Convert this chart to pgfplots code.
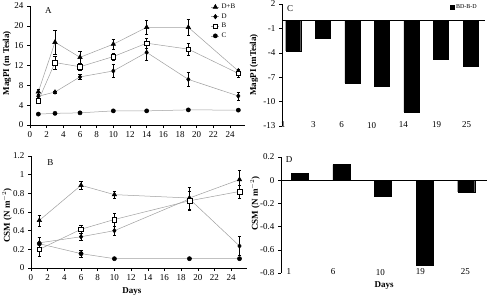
\documentclass[border=0pt]{standalone}
\usepackage{fontspec}
\setmainfont{Liberation Serif}
\usepackage{pgfplots}
\usepackage{pgfplotstable}
\pgfplotsset{compat=1.18}

% MagPI (mTesla), panel A: day, mean, standard error
\pgfplotstableread{
d v e
1 6.7 0.5
3 16.7 2.4
6 13.65 1.2
10 16.3 1.0
14 19.7 1.35
19 19.7 1.6
25 10.9 0.4
}\magDB
\pgfplotstableread{
d v e
1 5.8 0.4
3 6.65 0.2
6 9.7 0.5
10 10.9 1.35
14 14.65 1.5
19 9.2 1.4
25 5.85 0.8
}\magD
\pgfplotstableread{
d v e
1 4.9 0.3
3 12.6 1.3
6 11.75 0.7
10 13.8 0.7
14 16.5 1.0
19 15.3 1.2
25 10.4 0.8
}\magB
\pgfplotstableread{
d v e
1 2.2 0.1
3 2.35 0.1
6 2.45 0.1
10 2.85 0.1
14 2.85 0.1
19 3.05 0.1
25 3.0 0.1
}\magC

% CSM (N m^-2), panel B
\pgfplotstableread{
d v e
1 0.51 0.06
6 0.886 0.045
10 0.786 0.04
19 0.75 0.12
25 0.947 0.1
}\csmDB
\pgfplotstableread{
d v e
1 0.27 0.06
6 0.335 0.04
10 0.40 0.05
19 0.74 0.12
25 0.236 0.1
}\csmD
\pgfplotstableread{
d v e
1 0.20 0.075
6 0.415 0.04
10 0.52 0.07
19 0.72 0.1
25 0.82 0.07
}\csmB
\pgfplotstableread{
d v e
1 0.26 0.07
6 0.154 0.04
10 0.10 0.01
19 0.10 0.01
25 0.10 0.01
}\csmC

\pgfplotsset{
  panel/.style={
    scale only axis, anchor=south west, clip=false,
    axis lines=left, axis line style={black, line width=0.6pt, -},
    tick align=outside, major tick length=3pt,
    tick style={black, line width=0.5pt},
    ticklabel style={font=\fontsize{9}{10}\selectfont},
    /pgf/number format/assume math mode=true,
    label style={font=\bfseries\fontsize{9}{10}\selectfont},
  },
  % rotated y label, centred at a fixed distance left of the axis line
  ylab/.style 2 args={every axis y label/.style={at={(rel axis cs:0,#1)}, rotate=90,
      anchor=center, yshift=#2, font=\bfseries\fontsize{9}{10}\selectfont}},
  series/.style={
    draw=gray!75, line width=0.5pt,
    error bars/y dir=both, error bars/y explicit,
    error bars/error bar style={black, line width=0.5pt},
    error bars/error mark options={rotate=90, black, mark size=1.6pt, line width=0.5pt},
  },
  lineleg/.style={
    legend image code/.code={
      \draw[##1, mark repeat=2, mark phase=2] plot coordinates {(0pt,0pt) (4pt,0pt) (8pt,0pt)};
    }
  },
  dbmark/.style={mark=triangle*, mark size=2.6pt, mark options={draw=black, fill=black, solid}},
  dmark/.style={mark=diamond*, mark size=2.3pt, mark options={draw=black, fill=black, solid}},
  bmark/.style={mark=square*, mark size=2.3pt, mark options={draw=black, fill=white, solid}},
  cmark/.style={mark=*, mark size=2.1pt, mark options={draw=black, fill=black, solid}},
}

\begin{document}
\begin{tikzpicture}
\useasboundingbox (0pt,0pt) rectangle (489pt,301pt);

% A: MagPI time course
\begin{axis}[panel, at={(30pt,176pt)}, width=215pt, height=119pt,
  xmin=0, xmax=25.8, ymin=0, ymax=24,
  xtick={0,2,...,24}, ytick={0,4,...,24},
  ylab={0.52}{23pt},
  ylabel={MagPI (m Tesla)},
  legend style={at={(0.965,1.035)}, anchor=north east, draw=none, fill=none,
    font=\fontsize{7}{8}\selectfont, row sep=-0.5pt, inner sep=0pt, cells={anchor=west}},
  lineleg]
\addplot[series, dbmark] table[x=d, y=v, y error=e] {\magDB};
\addlegendentry{D+B}
\addplot[series, dmark] table[x=d, y=v, y error=e] {\magD};
\addlegendentry{D}
\addplot[series, bmark] table[x=d, y=v, y error=e] {\magB};
\addlegendentry{B}
\addplot[series, cmark] table[x=d, y=v, y error=e] {\magC};
\addlegendentry{C}
\node[font=\fontsize{9}{10}\selectfont, anchor=center] at (rel axis cs:0.085,0.965) {A};
\end{axis}

% B: CSM time course
\begin{axis}[panel, at={(31pt,33pt)}, width=216pt, height=112pt,
  xmin=0, xmax=25.9, ymin=0, ymax=1.2,
  xtick={0,2,...,24}, ytick={0,0.2,...,1.2},
  yticklabel style={/pgf/number format/fixed},
  ylab={0.47}{24pt},
  xlabel style={xshift=-7pt},
  xlabel={Days}, ylabel={CSM (N m$^{-2}$)}]
\addplot[series, dbmark] table[x=d, y=v, y error=e] {\csmDB};
\addplot[series, dmark] table[x=d, y=v, y error=e] {\csmD};
\addplot[series, bmark] table[x=d, y=v, y error=e] {\csmB};
\addplot[series, cmark] table[x=d, y=v, y error=e] {\csmC};
\node[font=\fontsize{9}{10}\selectfont, anchor=center] at (rel axis cs:0.09,0.94) {B};
\end{axis}

% C: BD-B-D difference of MagPI
\begin{axis}[panel, at={(282pt,175pt)}, width=203pt, height=122pt,
  axis x line=bottom, x axis line style={draw=none}, xtick style={draw=none},
  xmin=-0.38, xmax=6.49, ymin=-13, ymax=2,
  ytick={2,-1,-4,-7,-10,-13},
  xtick={-0.34,0.68,1.64,2.65,3.73,4.85,5.87},
  xticklabels={1,3,6,10,14,19,25},
  xticklabel style={yshift=9pt},
  extra y ticks={0},
  extra y tick style={yticklabel={}, tick style={draw=none}, grid=major,
    major grid style={black, line width=0.6pt}},
  ylab={0.5}{28pt},
  ylabel={MagPI (mTesla)},
  legend style={at={(0.97,1.01)}, anchor=north east, draw=none, fill=none,
    font=\fontsize{6}{7}\selectfont, inner sep=0pt},
  legend image code/.code={\fill[black] (0pt,-2pt) rectangle (4pt,2pt);}]
\addplot[ybar, bar width=15pt, fill=black, draw=black]
  coordinates {(0,-3.75) (1,-2.23) (2,-7.7) (3,-8.07) (4,-11.27) (5,-4.74) (6,-5.6)};
\addlegendentry{BD-B-D}
\node[font=\fontsize{9}{10}\selectfont, anchor=center] at (rel axis cs:0.04,0.965) {C};
\end{axis}

% D: BD-B-D difference of CSM
\begin{axis}[panel, at={(281pt,28pt)}, width=206pt, height=116pt,
  axis x line=bottom, x axis line style={draw=none}, xtick style={draw=none},
  xmin=-0.45, xmax=4.5, ymin=-0.8, ymax=0.2,
  ytick={0.2,0,-0.2,-0.4,-0.6,-0.8},
  yticklabel style={/pgf/number format/fixed},
  xtick={-0.26,0.8,1.94,2.9,3.98},
  xticklabels={1,6,10,19,25},
  xticklabel style={yshift=9pt},
  extra y ticks={0},
  extra y tick style={yticklabel={}, tick style={draw=none}, grid=major,
    major grid style={black, line width=0.6pt}},
  ylab={0.6}{26pt},
  xlabel={Days}, ylabel={CSM (N m$^{-2}$)}]
\addplot[ybar, bar width=17pt, fill=black, draw=black]
  coordinates {(0,0.057) (1,0.135) (2,-0.135) (3,-0.733) (4,-0.10)};
\node[font=\fontsize{9}{10}\selectfont, anchor=center] at (rel axis cs:0.04,0.98) {D};
\end{axis}
\end{tikzpicture}
\end{document}
